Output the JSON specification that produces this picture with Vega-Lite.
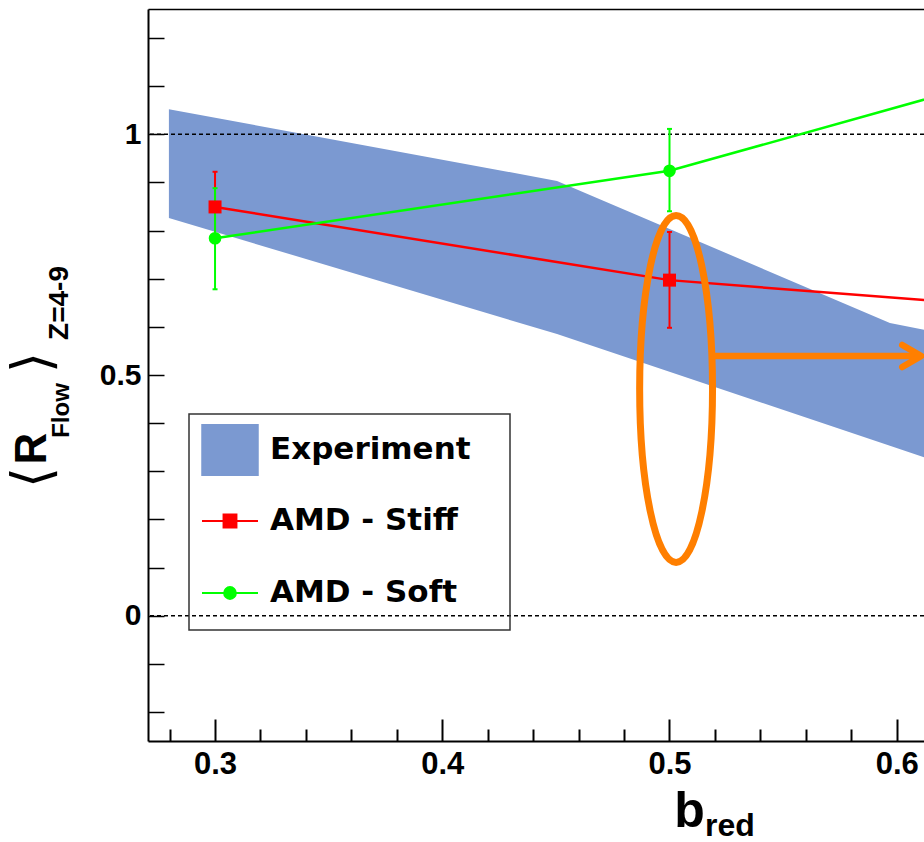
{
  "$schema": "https://vega.github.io/schema/vega-lite/v6.json",
  "width": 776,
  "height": 732,
  "autosize": {"type": "none"},
  "padding": {"left": 148, "top": 9, "right": 0, "bottom": 101},
  "background": "white",
  "config": {
    "view": {"stroke": null},
    "axis": {"grid": false, "labelColor": "black", "titleColor": "black", "tickColor": "black", "domainColor": "black"}
  },
  "datasets": {
    "band": [
      {"b": 0.2797, "lo": 0.826, "hi": 1.052, "series": "Experiment"},
      {"b": 0.4505, "lo": 0.585, "hi": 0.903, "series": "Experiment"},
      {"b": 0.597, "lo": 0.353, "hi": 0.608, "series": "Experiment"},
      {"b": 0.7, "lo": 0.189, "hi": 0.51, "series": "Experiment"}
    ],
    "pts": [
      {"b": 0.3, "v": 0.849, "lo": 0.776, "hi": 0.922, "series": "AMD - Stiff"},
      {"b": 0.5, "v": 0.697, "lo": 0.598, "hi": 0.797, "series": "AMD - Stiff"},
      {"b": 0.7, "v": 0.623, "series": "AMD - Stiff"},
      {"b": 0.3, "v": 0.784, "lo": 0.678, "hi": 0.888, "series": "AMD - Soft"},
      {"b": 0.5, "v": 0.924, "lo": 0.840, "hi": 1.011, "series": "AMD - Soft"},
      {"b": 0.7, "v": 1.188, "series": "AMD - Soft"}
    ],
    "refs": [{"r": 0}, {"r": 1}],
    "annot": [{"ex": 0.5029, "ey": 0.471, "ax1": 0.519, "ax2": 0.6105, "ay": 0.5395, "hx": 0.6108}]
  },
  "resolve": {"axis": {"x": "independent", "y": "independent"}},
  "layer": [
    {
      "data": {"name": "band"},
      "mark": {"type": "area", "clip": true, "opacity": 1, "interpolate": "linear"},
      "encoding": {
        "x": {
          "field": "b", "type": "quantitative",
          "scale": {"domain": [0.2705, 0.612], "nice": false, "zero": false},
          "axis": {
            "orient": "bottom", "values": [0.3, 0.4, 0.5, 0.6], "format": ".1f",
            "tickSize": -22, "tickWidth": 2, "tickColor": "black",
            "domain": true, "domainColor": "black", "domainWidth": 2,
            "labelFont": "Liberation Sans", "labelFontWeight": "bold", "labelFontSize": 31, "labelColor": "black",
            "labelPadding": 30, "labelFlush": false, "labelOverlap": false, "grid": false,
            "title": "b", "titleFont": "Liberation Sans", "titleFontWeight": "bold", "titleFontSize": 50, "titleColor": "black",
            "titleX": 541, "titleY": 85, "titleAlign": "center", "titleBaseline": "alphabetic", "titleAngle": 0, "zindex": 1
          }
        },
        "y": {
          "field": "hi", "type": "quantitative",
          "scale": {"domain": [-0.26, 1.26], "nice": false, "zero": false},
          "axis": {
            "orient": "left", "values": [-0.2, -0.1, 0, 0.1, 0.2, 0.3, 0.4, 0.5, 0.6, 0.7, 0.8, 0.9, 1, 1.1, 1.2],
            "labelExpr": "abs(datum.value) < 1e-6 ? '0' : abs(datum.value - 0.5) < 1e-6 ? '0.5' : abs(datum.value - 1) < 1e-6 ? '1' : ''",
            "tickSize": -16, "tickWidth": 1.5, "tickColor": "black",
            "domain": true, "domainColor": "black", "domainWidth": 2,
            "labelFont": "Liberation Sans", "labelFontWeight": "bold", "labelFontSize": 30, "labelColor": "black",
            "labelPadding": 23, "labelFlush": false, "labelOverlap": false, "grid": false,
            "title": "R", "titleFont": "Liberation Sans", "titleFontWeight": "bold", "titleFontSize": 44, "titleColor": "black",
            "titleX": -103, "titleY": 439, "titleAngle": -90, "titleAlign": "center", "titleBaseline": "alphabetic", "zindex": 1
          }
        },
        "y2": {"field": "lo"},
        "color": {
          "field": "series", "type": "nominal",
          "scale": {"domain": ["Experiment", "AMD - Stiff", "AMD - Soft"], "range": ["#7b99d1", "#ff0000", "#00ff00"]},
          "legend": {
            "orient": "none", "legendX": 41, "legendY": 405, "title": null,
            "padding": 7, "rowPadding": 12, "symbolOffset": 5, "symbolSize": 3136, "labelOffset": 11,
            "labelFont": "DejaVu Sans", "labelFontWeight": "bold", "labelFontSize": 31, "labelColor": "black", "labelLimit": 500,
            "labelExpr": "datum.label === 'Experiment' ? 'Experiment\u00a0\u00a0\u00a0\u200b' : datum.label",
            "strokeColor": "#333333",
            "encoding": {
              "legend": {"strokeWidth": {"value": 1.5}},
              "symbols": {
                "shape": {"value": {"signal": "(datum.value === 'Experiment' ? 'M-1,-0.9H1V0.9H-1Z' : datum.value === 'AMD - Stiff' ? 'M0,-0.9M0,0.9M-1,0H1M-0.23,-0.23H0.23V0.23H-0.23Z' : 'M0,-0.9M0,0.9M-1,0H1M-0.21,0A0.21,0.21,0,1,1,0.21,0A0.21,0.21,0,1,1,-0.21,0Z')"}},
                "fill": {"value": {"signal": "(datum.value === 'Experiment' ? '#7b99d1' : datum.value === 'AMD - Stiff' ? '#ff0000' : '#00ff00')"}},
                "stroke": {"value": {"signal": "(datum.value === 'Experiment' ? '#222222' : datum.value === 'AMD - Stiff' ? '#ff0000' : '#00ff00')"}},
                "strokeWidth": {"value": {"signal": "(datum.value === 'Experiment' ? 1.5 : 2)"}},
                "opacity": {"value": 1},
                "fillOpacity": {"value": 1},
                "strokeOpacity": {"value": 1}
              }
            }
          }
        }
      }
    },
    {
      "data": {"name": "refs"},
      "mark": {"type": "rule", "strokeDash": [4, 3], "strokeWidth": 1.5, "color": "black"},
      "encoding": {
        "y": {"field": "r", "type": "quantitative", "scale": {"domain": [-0.26, 1.26], "nice": false, "zero": false}, "axis": null}
      }
    },
    {
      "data": {"name": "pts"},
      "mark": {"type": "line", "clip": true, "strokeWidth": 2.5},
      "encoding": {
        "x": {
          "field": "b", "type": "quantitative",
          "scale": {"domain": [0.2705, 0.612], "nice": false, "zero": false},
          "axis": {
            "orient": "bottom", "values": [0.28, 0.32, 0.34, 0.36, 0.38, 0.42, 0.44, 0.46, 0.48, 0.52, 0.54, 0.56, 0.58],
            "tickSize": -12, "tickWidth": 2, "tickColor": "black", "domain": false, "labels": false, "grid": false,
            "title": "red", "titleFont": "Liberation Sans", "titleFontWeight": "bold", "titleFontSize": 32, "titleColor": "black",
            "titleX": 581.5, "titleY": 94, "titleAlign": "center", "titleBaseline": "alphabetic", "titleAngle": 0
          }
        },
        "y": {
          "field": "v", "type": "quantitative",
          "scale": {"domain": [-0.26, 1.26], "nice": false, "zero": false},
          "axis": {
            "orient": "left", "domain": false, "ticks": false, "labels": false, "grid": false,
            "title": "⟨", "titleFont": "DejaVu Sans", "titleFontWeight": "normal", "titleFontSize": 54, "titleColor": "black",
            "titleX": -99, "titleY": 468, "titleAngle": -90, "titleAlign": "center", "titleBaseline": "alphabetic"
          }
        },
        "color": {"field": "series", "type": "nominal", "scale": {"domain": ["Experiment", "AMD - Stiff", "AMD - Soft"], "range": ["#7b99d1", "#ff0000", "#00ff00"]}}
      }
    },
    {
      "data": {"name": "pts"},
      "transform": [{"filter": "isValid(datum.lo)"}],
      "mark": {"type": "rule", "clip": true, "strokeWidth": 2},
      "encoding": {
        "x": {
          "field": "b", "type": "quantitative",
          "scale": {"domain": [0.2705, 0.612], "nice": false, "zero": false},
          "axis": {"orient": "top", "domain": true, "domainColor": "black", "domainWidth": 1.5, "ticks": false, "labels": false, "grid": false, "title": null}
        },
        "y": {
          "field": "lo", "type": "quantitative",
          "scale": {"domain": [-0.26, 1.26], "nice": false, "zero": false},
          "axis": {
            "orient": "left", "domain": false, "ticks": false, "labels": false, "grid": false,
            "title": "⟩", "titleFont": "DejaVu Sans", "titleFontWeight": "normal", "titleFontSize": 54, "titleColor": "black",
            "titleX": -99, "titleY": 353, "titleAngle": -90, "titleAlign": "center", "titleBaseline": "alphabetic"
          }
        },
        "y2": {"field": "hi"},
        "color": {"field": "series", "type": "nominal", "scale": {"domain": ["Experiment", "AMD - Stiff", "AMD - Soft"], "range": ["#7b99d1", "#ff0000", "#00ff00"]}}
      }
    },
    {
      "data": {"name": "pts"},
      "transform": [{"filter": "isValid(datum.lo)"}],
      "mark": {"type": "tick", "orient": "horizontal", "size": 5, "thickness": 2, "opacity": 1, "clip": true},
      "encoding": {
        "x": {"field": "b", "type": "quantitative", "scale": {"domain": [0.2705, 0.612], "nice": false, "zero": false}, "axis": null},
        "y": {
          "field": "lo", "type": "quantitative",
          "scale": {"domain": [-0.26, 1.26], "nice": false, "zero": false},
          "axis": {
            "orient": "left", "domain": false, "ticks": false, "labels": false, "grid": false,
            "title": "Flow", "titleFont": "Liberation Sans", "titleFontWeight": "bold", "titleFontSize": 24, "titleColor": "black",
            "titleX": -80, "titleY": 401, "titleAngle": -90, "titleAlign": "center", "titleBaseline": "alphabetic"
          }
        },
        "color": {"field": "series", "type": "nominal", "scale": {"domain": ["Experiment", "AMD - Stiff", "AMD - Soft"], "range": ["#7b99d1", "#ff0000", "#00ff00"]}}
      }
    },
    {
      "data": {"name": "pts"},
      "transform": [{"filter": "isValid(datum.hi)"}],
      "mark": {"type": "tick", "orient": "horizontal", "size": 5, "thickness": 2, "opacity": 1, "clip": true},
      "encoding": {
        "x": {"field": "b", "type": "quantitative", "scale": {"domain": [0.2705, 0.612], "nice": false, "zero": false}, "axis": null},
        "y": {
          "field": "hi", "type": "quantitative",
          "scale": {"domain": [-0.26, 1.26], "nice": false, "zero": false},
          "axis": {
            "orient": "left", "domain": false, "ticks": false, "labels": false, "grid": false,
            "title": "Z=4-9", "titleFont": "Liberation Sans", "titleFontWeight": "bold", "titleFontSize": 28, "titleColor": "black",
            "titleX": -81, "titleY": 293.5, "titleAngle": -90, "titleAlign": "center", "titleBaseline": "alphabetic"
          }
        },
        "color": {"field": "series", "type": "nominal", "scale": {"domain": ["Experiment", "AMD - Stiff", "AMD - Soft"], "range": ["#7b99d1", "#ff0000", "#00ff00"]}}
      }
    },
    {
      "data": {"name": "pts"},
      "transform": [{"filter": "datum.series === 'AMD - Stiff'"}],
      "mark": {"type": "point", "shape": "square", "filled": true, "size": 169, "opacity": 1, "clip": true},
      "encoding": {
        "x": {"field": "b", "type": "quantitative", "scale": {"domain": [0.2705, 0.612], "nice": false, "zero": false}, "axis": null},
        "y": {"field": "v", "type": "quantitative", "scale": {"domain": [-0.26, 1.26], "nice": false, "zero": false}, "axis": null},
        "color": {"field": "series", "type": "nominal", "scale": {"domain": ["Experiment", "AMD - Stiff", "AMD - Soft"], "range": ["#7b99d1", "#ff0000", "#00ff00"]}}
      }
    },
    {
      "data": {"name": "pts"},
      "transform": [{"filter": "datum.series === 'AMD - Soft'"}],
      "mark": {"type": "point", "shape": "circle", "filled": true, "size": 160, "opacity": 1, "clip": true},
      "encoding": {
        "x": {"field": "b", "type": "quantitative", "scale": {"domain": [0.2705, 0.612], "nice": false, "zero": false}, "axis": null},
        "y": {"field": "v", "type": "quantitative", "scale": {"domain": [-0.26, 1.26], "nice": false, "zero": false}, "axis": null},
        "color": {"field": "series", "type": "nominal", "scale": {"domain": ["Experiment", "AMD - Stiff", "AMD - Soft"], "range": ["#7b99d1", "#ff0000", "#00ff00"]}}
      }
    },
    {
      "data": {"name": "annot"},
      "mark": {"type": "point", "shape": "M-0.21,0A0.21,1,0,1,1,0.21,0A0.21,1,0,1,1,-0.21,0Z", "size": 120409, "filled": false, "color": "#ff7f00", "stroke": "#ff7f00", "strokeWidth": 7, "opacity": 1},
      "encoding": {
        "x": {"field": "ex", "type": "quantitative", "scale": {"domain": [0.2705, 0.612], "nice": false, "zero": false}, "axis": null},
        "y": {"field": "ey", "type": "quantitative", "scale": {"domain": [-0.26, 1.26], "nice": false, "zero": false}, "axis": null}
      }
    },
    {
      "data": {"name": "annot"},
      "mark": {"type": "rule", "color": "#ff7f00", "strokeWidth": 6.5, "strokeCap": "butt"},
      "encoding": {
        "x": {"field": "ax1", "type": "quantitative", "scale": {"domain": [0.2705, 0.612], "nice": false, "zero": false}, "axis": null},
        "x2": {"field": "ax2"},
        "y": {"field": "ay", "type": "quantitative", "scale": {"domain": [-0.26, 1.26], "nice": false, "zero": false}, "axis": null}
      }
    },
    {
      "data": {"name": "annot"},
      "mark": {"type": "point", "shape": "M-1,-0.58L0,0L-1,0.58", "size": 1444, "filled": false, "color": "#ff7f00", "stroke": "#ff7f00", "strokeWidth": 6.5, "strokeCap": "round", "strokeJoin": "round", "opacity": 1},
      "encoding": {
        "x": {"field": "hx", "type": "quantitative", "scale": {"domain": [0.2705, 0.612], "nice": false, "zero": false}, "axis": null},
        "y": {"field": "ay", "type": "quantitative", "scale": {"domain": [-0.26, 1.26], "nice": false, "zero": false}, "axis": null}
      }
    }
  ]
}
